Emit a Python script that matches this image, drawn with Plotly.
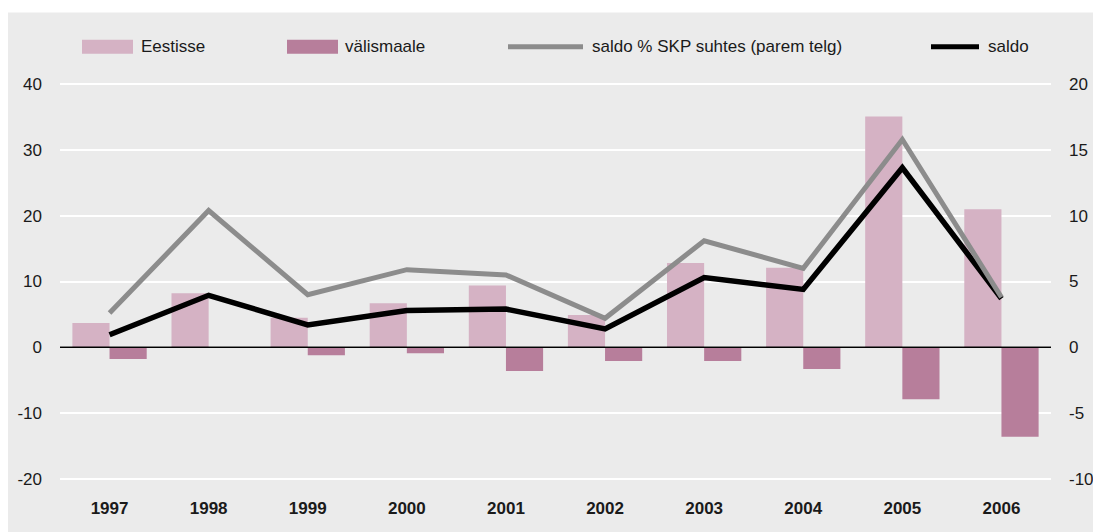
import plotly.graph_objects as go

years = ["1997", "1998", "1999", "2000", "2001", "2002", "2003", "2004", "2005", "2006"]
eestisse = [3.7, 8.2, 4.5, 6.7, 9.4, 4.9, 12.8, 12.1, 35.1, 21.0]
valismaale = [-1.8, 0.0, -1.2, -0.9, -3.6, -2.1, -2.1, -3.3, -7.9, -13.6]
saldo = [1.9, 7.9, 3.4, 5.6, 5.8, 2.8, 10.6, 8.8, 27.3, 7.4]
saldo_skp = [2.6, 10.4, 4.0, 5.9, 5.5, 2.2, 8.1, 6.0, 15.8, 3.8]

left_ticks = [-20, -10, 0, 10, 20, 30, 40]
left_labels = ["-20", "-10", "0", "10", "20", "30", "40"]
right_ticks = [-10, -5, 0, 5, 10, 15, 20]
right_labels = ["-10", "-5", "0", "5", "10", "15", "20"]

names = ["Eestisse", "välismaale", "saldo % SKP suhtes (parem telg)", "saldo"]
c_pink = "#d5b2c4"
c_mauve = "#b77e9b"
c_grey = "#8c8c8c"
c_black = "#000000"
bg = "#ebebeb"

W, H = 1093, 532
ml, mr, mt, mb = 60, 42, 80.7, 49.7
pw, ph = W - ml - mr, H - mt - mb


def px(x):
    return (x - ml) / pw


def py(y):
    return (H - mb - y) / ph


font = "Liberation Sans, Arial, Helvetica, sans-serif"

fig = go.Figure()
fig.add_trace(go.Bar(x=years, y=eestisse, name=names[0], marker_color=c_pink,
                     marker_line_width=0, showlegend=False))
fig.add_trace(go.Bar(x=years, y=valismaale, name=names[1], marker_color=c_mauve,
                     marker_line_width=0, showlegend=False))
fig.add_trace(go.Scatter(x=years, y=saldo_skp, name=names[2], mode="lines",
                         line=dict(color=c_grey, width=5), yaxis="y2", showlegend=False))
fig.add_trace(go.Scatter(x=years, y=saldo, name=names[3], mode="lines",
                         line=dict(color=c_black, width=5.5), showlegend=False))

shapes = [
    dict(type="rect", xref="paper", yref="paper", x0=px(8), x1=px(W + 5), y0=py(H + 5), y1=py(12),
         fillcolor=bg, line=dict(width=0), layer="below"),
    dict(type="line", xref="paper", yref="y", x0=0, x1=1, y0=0, y1=0,
         line=dict(color="#000000", width=1.6), layer="above"),
]
annotations = []
# custom legend
leg = [
    ("rect", 82, 133, c_pink, names[0], 139),
    ("rect", 287, 338, c_mauve, names[1], 343),
    ("line", 508, 583, c_grey, names[2], 590),
    ("line", 931, 979, c_black, names[3], 986),
]
ly = 46.5
for kind, x0, x1, col, txt, tx in leg:
    if kind == "rect":
        shapes.append(dict(type="rect", xref="paper", yref="paper", x0=px(x0), x1=px(x1),
                           y0=py(ly + 7), y1=py(ly - 7), fillcolor=col, line=dict(width=0)))
    else:
        shapes.append(dict(type="line", xref="paper", yref="paper", x0=px(x0), x1=px(x1),
                           y0=py(ly), y1=py(ly), line=dict(color=col, width=5)))
    annotations.append(dict(text=txt, xref="paper", yref="paper", x=px(tx), y=py(ly),
                            xanchor="left", yanchor="middle", showarrow=False,
                            font=dict(size=17, color="#1a1a1a", family=font)))

fig.update_layout(
    width=W, height=H, autosize=False,
    margin=dict(l=ml, r=mr, t=mt, b=mb, pad=0, autoexpand=False),
    paper_bgcolor="white", plot_bgcolor=bg,
    barmode="group", bargap=0.25, bargroupgap=0,
    shapes=shapes, annotations=annotations,
    font=dict(family=font, size=17, color="#1a1a1a"),
    xaxis=dict(type="category", showgrid=False, zeroline=False, showline=False, ticks="",
               tickfont=dict(size=17, family="Liberation Sans, Arial", color="#1a1a1a", weight="bold"),
               ticklabelstandoff=14, automargin=False),
    yaxis=dict(range=[-20.5, 40.5], tickvals=left_ticks, ticktext=left_labels,
               showgrid=True, gridcolor="white", gridwidth=2, automargin=False,
               zeroline=False, showline=False, ticks="", ticklabelstandoff=17),
    yaxis2=dict(range=[-10.25, 20.25], tickvals=right_ticks, ticktext=right_labels,
                overlaying="y", side="right", automargin=False,
                showgrid=False, zeroline=False, showline=False, ticks="", ticklabelstandoff=17),
)

fig.write_html(
    "out.html",
    config={"responsive": False, "displayModeBar": False},
    post_script="document.body.style.margin='0';document.body.style.overflow='hidden';",
)
